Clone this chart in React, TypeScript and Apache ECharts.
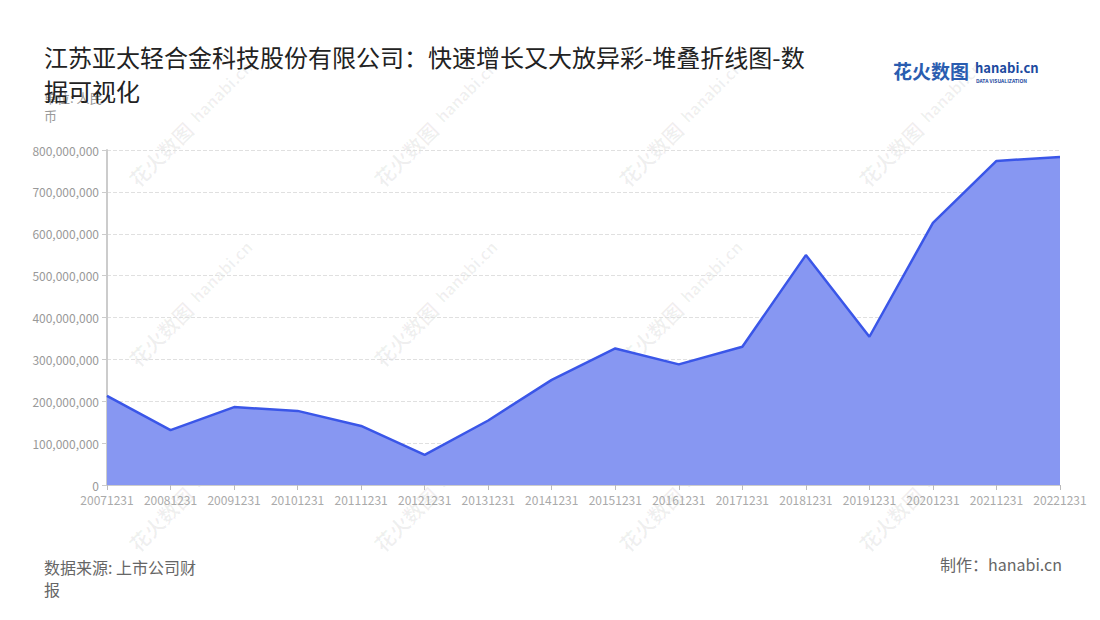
import React, { useEffect, useRef } from "react";
import * as echarts from "echarts";

const categories = [
  "20071231", "20081231", "20091231", "20101231", "20111231", "20121231",
  "20131231", "20141231", "20151231", "20161231", "20171231", "20181231",
  "20191231", "20201231", "20211231", "20221231",
];
const revenue = [
  213000000, 131000000, 186000000, 177000000, 141000000, 72000000,
  154000000, 251000000, 326000000, 288000000, 330000000, 549000000,
  354000000, 626000000, 774000000, 783000000,
];
const titleText = "江苏亚太轻合金科技股份有限公司：快速增长又大放异彩-堆叠折线图-数据可视化";
const unitText = "单位: 人民币";
const sourceText = "数据来源: 上市公司财\n报";
const makerText = "制作：hanabi.cn";

const wmX = [175, 420, 665, 905];
const wmY = [140, 320, 505];

export default function App() {
  const ref = useRef<HTMLDivElement>(null);
  useEffect(() => {
    if (!ref.current) return;
    const chart = echarts.init(ref.current, null, { renderer: "svg" });
    const font = "'Noto Sans CJK SC', 'Noto Sans', sans-serif";
    const watermarks: any[] = [];
    wmY.forEach((y) =>
      wmX.forEach((x) => {
        watermarks.push({
          type: "group",
          x,
          y,
          rotation: Math.PI / 4,
          silent: true,
          z: 0,
          children: [
            {
              type: "text",
              style: {
                text: "花火数图",
                x: -60,
                y: -10,
                fill: "rgba(0,0,0,0.06)",
                font: "bold 20px " + font,
              },
            },
            {
              type: "text",
              style: {
                text: "hanabi.cn",
                x: 28,
                y: -10,
                fill: "rgba(0,0,0,0.06)",
                font: "bold 16px " + font,
              },
            },
          ],
        });
      })
    );
    chart.setOption({
      animation: false,
      backgroundColor: "#ffffff",
      title: {
        text: titleText,
        left: 39,
        top: 34,
        textStyle: {
          fontSize: 24,
          fontWeight: "normal",
          color: "#222",
          fontFamily: font,
          width: 775,
          overflow: "break",
          lineHeight: 34,
        },
      },
      grid: { left: 107, right: 40, top: 150, bottom: 135 },
      xAxis: {
        type: "category",
        data: categories,
        boundaryGap: false,
        axisLine: { lineStyle: { color: "#ccc" } },
        axisTick: { show: true, lineStyle: { color: "#bbb" } },
        axisLabel: { color: "#aaa", fontSize: 12, interval: 0, fontFamily: font },
      },
      yAxis: {
        type: "value",
        min: 0,
        max: 800000000,
        interval: 100000000,
        axisLine: { show: true, lineStyle: { color: "#ccc", width: 2 } },
        axisTick: { show: true, lineStyle: { color: "#ccc" } },
        axisLabel: {
          color: "#999",
          fontSize: 12,
          fontFamily: font,
          formatter: (v: number) => v.toLocaleString("en-US"),
        },
        splitLine: { lineStyle: { color: "#e0e0e0", type: "dashed" } },
      },
      series: [
        {
          type: "line",
          data: revenue,
          stack: "total",
          symbol: "none",
          lineStyle: { color: "#3a56e8", width: 2.5 },
          itemStyle: { color: "#3a56e8" },
          areaStyle: { color: "#8797f2", opacity: 1 },
          z: 3,
        },
      ],
      graphic: [
        ...watermarks,
        {
          type: "text",
          left: 44,
          top: 88,
          style: {
            text: unitText,
            fill: "#999",
            font: "13px " + font,
            width: 70,
            overflow: "break",
            lineHeight: 18,
          },
        },
        {
          type: "text",
          left: 44,
          top: 556,
          style: {
            text: sourceText,
            fill: "#666",
            font: "16px " + font,
            lineHeight: 22,
          },
        },
        {
          type: "text",
          right: 38,
          top: 556,
          style: { text: makerText, fill: "#666", font: "16px " + font },
        },
        {
          type: "text",
          left: 893,
          top: 61,
          style: { text: "花火数图", fill: "#2a5db0", font: "bold 19px " + font },
        },
        {
          type: "text",
          left: 975,
          top: 61,
          style: { text: "hanabi.cn", fill: "#1d4aa0", font: "bold 13px " + font },
        },
        {
          type: "text",
          left: 976,
          top: 78,
          style: { text: "DATA VISUALIZATION", fill: "#1d4aa0", font: "bold 5px " + font },
        },
      ],
    });
    return () => chart.dispose();
  }, []);
  return <div ref={ref} style={{ width: 1100, height: 620, margin: -8 }} />;
}
